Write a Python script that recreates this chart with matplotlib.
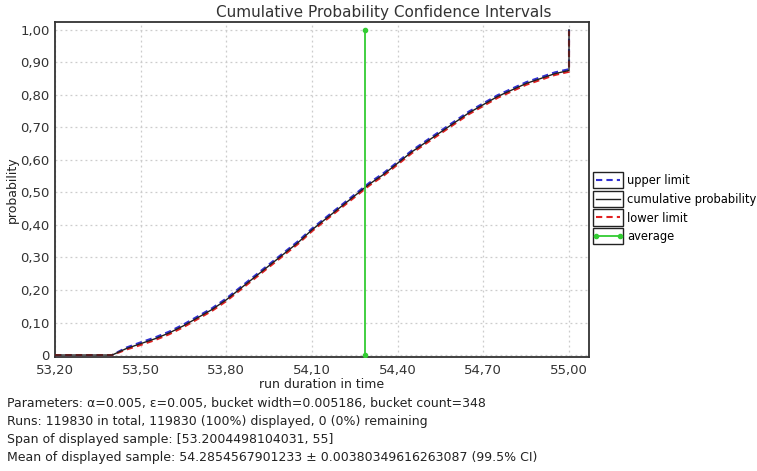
import matplotlib
matplotlib.use("Agg")
import matplotlib.pyplot as plt
from matplotlib.legend_handler import HandlerLine2D
from matplotlib.patches import Rectangle

# ---- data ----
run_time = [53.20, 53.40, 53.45, 53.50, 53.55, 53.60, 53.65, 53.70, 53.75, 53.80,
            53.85, 53.90, 53.95, 54.00, 54.05, 54.10, 54.15, 54.20, 54.25, 54.30,
            54.35, 54.40, 54.45, 54.50, 54.55, 54.60, 54.65, 54.70, 54.75, 54.80,
            54.85, 54.90, 54.95, 55.00, 55.00]
cum_prob = [0.000, 0.000, 0.020, 0.035, 0.050, 0.068, 0.090, 0.115, 0.140, 0.170,
            0.205, 0.240, 0.275, 0.310, 0.345, 0.385, 0.420, 0.455, 0.490, 0.525,
            0.555, 0.590, 0.625, 0.655, 0.685, 0.715, 0.745, 0.770, 0.795, 0.815,
            0.835, 0.850, 0.865, 0.875, 1.000]
upper_lim = [0.000, 0.000, 0.023, 0.039, 0.054, 0.072, 0.094, 0.119, 0.144, 0.174,
             0.209, 0.244, 0.279, 0.314, 0.349, 0.389, 0.424, 0.459, 0.494, 0.529,
             0.559, 0.594, 0.629, 0.659, 0.689, 0.719, 0.749, 0.774, 0.799, 0.819,
             0.839, 0.854, 0.869, 0.879, 1.000]
lower_lim = [0.000, 0.000, 0.017, 0.031, 0.046, 0.064, 0.086, 0.111, 0.136, 0.166,
             0.201, 0.236, 0.271, 0.306, 0.341, 0.381, 0.416, 0.451, 0.486, 0.521,
             0.551, 0.586, 0.621, 0.651, 0.681, 0.711, 0.741, 0.766, 0.791, 0.811,
             0.831, 0.846, 0.861, 0.871, 0.996]
mean_value = 54.2854567901233
avg_prob = [0.0, 1.0]

x_ticks = [53.20, 53.50, 53.80, 54.10, 54.40, 54.70, 55.00]
x_labels = ["53,20", "53,50", "53,80", "54,10", "54,40", "54,70", "55,00"]
y_ticks = [0, 0.1, 0.2, 0.3, 0.4, 0.5, 0.6, 0.7, 0.8, 0.9, 1.0]
y_labels = ["0", "0,10", "0,20", "0,30", "0,40", "0,50", "0,60", "0,70", "0,80", "0,90", "1,00"]

info_lines = [
    "Parameters: \u03b1=0.005, \u03b5=0.005, bucket width=0.005186, bucket count=348",
    "Runs: 119830 in total, 119830 (100%) displayed, 0 (0%) remaining",
    "Span of displayed sample: [53.2004498104031, 55]",
    "Mean of displayed sample: 54.2854567901233 \u00b1 0.00380349616263087 (99.5% CI)",
]

plt.rcParams['font.family'] = ['DejaVu Sans']

W, H = 757, 471
fig = plt.figure(figsize=(W / 100, H / 100), dpi=100)
ax = fig.add_axes([55 / W, 1 - 357 / H, (589 - 55) / W, (357 - 22) / H])

ax.plot(run_time, upper_lim, color="#3030d0", lw=1.5, ls=(0, (3, 2)), label="upper limit", zorder=3)
ax.plot(run_time, cum_prob, color="#202020", lw=1.0, label="cumulative probability", zorder=4)
ax.plot(run_time, lower_lim, color="#e02020", lw=1.5, ls=(0, (3, 2)), label="lower limit", zorder=3)
ax.plot([mean_value, mean_value], avg_prob, color="#33cc33", lw=1.3, marker="o", ms=3,
        label="average", zorder=5)

ax.set_xlim(53.2, 55.07)
ax.set_ylim(-0.006, 1.024)
ax.set_xticks(x_ticks)
ax.set_xticklabels(x_labels)
ax.set_yticks(y_ticks)
ax.set_yticklabels(y_labels)
ax.tick_params(length=0, labelsize=9.5, colors="#333333")
ax.tick_params(axis="y", pad=4)
ax.tick_params(axis="x", pad=5)
ax.grid(True, color="#cccccc", ls=(0, (1.5, 2.5)), lw=0.9)
for s in ax.spines.values():
    s.set_color("#333333")
    s.set_linewidth(1.3)

ax.set_xlabel("run duration in time", fontsize=9, color="#222222", labelpad=1)
ax.set_ylabel("probability", fontsize=9, color="#222222", labelpad=1)
fig.text(384 / W, 1 - 12 / H, "Cumulative Probability Confidence Intervals",
         ha="center", va="center", fontsize=11, color="#333333")


class BoxedHandler(HandlerLine2D):
    def create_artists(self, legend, orig_handle, xdescent, ydescent, width, height, fontsize, trans):
        arts = super().create_artists(legend, orig_handle, xdescent, ydescent, width, height, fontsize, trans)
        rect = Rectangle((-xdescent, -ydescent - 3), width, height + 6, fill=False,
                         edgecolor="#222222", lw=1.0, transform=trans)
        return [rect] + list(arts)


handles, labels = ax.get_legend_handles_labels()
leg = fig.legend(handles, labels, loc="upper left", bbox_to_anchor=(593 / W, 1 - 174 / H),
                 frameon=False, fontsize=8.3, handlelength=2.6, handletextpad=0.35,
                 labelspacing=0.5, borderpad=0.0, borderaxespad=0.0,
                 handler_map={h: BoxedHandler(numpoints=2) for h in handles})

for i, line in enumerate(info_lines):
    fig.text(7 / W, 1 - (404 + 18 * i) / H, line, ha="left", va="center",
             fontsize=9, color="#222222")

fig.savefig("out.png", dpi=100)
